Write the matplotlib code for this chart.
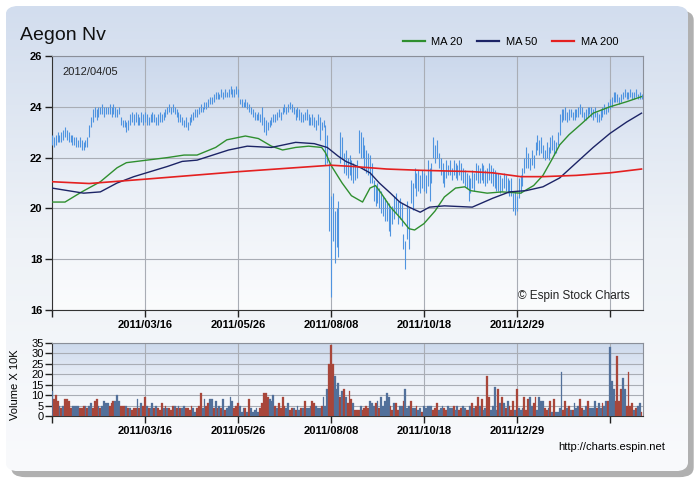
import numpy as np
import matplotlib
matplotlib.use('Agg')
import matplotlib.pyplot as plt
from matplotlib.patches import FancyBboxPatch
from matplotlib.colors import LinearSegmentedColormap

# daily high / low (bar index 0 = early Jan 2011, last = 2012/04/05)
hi = [22.9, 22.8, 22.9, 23.0, 22.9, 23.0, 23.1, 23.2, 23.1, 23.0,
      22.9, 22.9, 22.8, 22.8, 22.7, 22.8, 22.7, 22.6, 22.7, 22.8,
      23.3, 23.6, 23.9, 24.0, 23.9, 24.0, 24.0, 24.1, 24.0, 24.0,
      24.0, 24.1, 24.0, 24.1, 24.0, 23.9, 24.0, 23.6, 23.5, 23.5,
      23.4, 23.5, 23.7, 23.8, 23.7, 23.8, 23.7, 23.6, 23.8, 23.7,
      23.8, 23.7, 23.6, 23.7, 23.8, 23.7, 23.6, 23.7, 23.8, 23.7,
      23.8, 23.9, 24.0, 24.1, 24.0, 24.1, 24.0, 23.9, 23.8, 23.7,
      23.6, 23.5, 23.6, 23.4, 23.6, 23.7, 23.8, 23.9, 23.9, 24.0,
      24.1, 24.0, 24.2, 24.2, 24.3, 24.4, 24.4, 24.5, 24.6, 24.6,
      24.5, 24.7, 24.6, 24.7, 24.6, 24.7, 24.8, 24.7, 24.7, 24.8,
      24.7, 24.3, 24.3, 24.2, 24.3, 24.2, 24.1, 24.0, 23.9, 23.8,
      23.7, 23.8, 23.7, 24.0, 23.6, 23.5, 23.4, 23.5, 23.6, 23.7,
      23.7, 23.8, 23.9, 23.8, 24.0, 24.1, 24.0, 24.1, 24.2, 24.1,
      24.0, 23.9, 24.0, 23.9, 23.8, 23.7, 23.8, 23.9, 23.7, 23.6,
      23.7, 23.6, 23.5, 23.7, 23.6, 23.4, 23.5, 23.3, 22.9, 21.8,
      20.5, 20.6, 19.9, 20.0, 20.3, 23.0, 22.8, 22.2, 22.3, 22.0,
      22.1, 21.9, 21.8, 21.7, 21.9, 23.1, 23.0, 22.8, 22.5, 22.3,
      22.2, 22.1, 21.8, 21.1, 20.9, 21.0, 20.8, 20.7, 20.5, 20.4,
      20.3, 20.2, 20.0, 20.1, 20.5, 20.6, 20.3, 20.4, 20.2, 19.0,
      18.7, 20.3, 20.0, 21.1, 21.0, 21.6, 21.4, 21.5, 21.3, 21.5,
      21.4, 21.3, 21.9, 21.6, 21.8, 22.8, 22.5, 22.7, 22.2, 22.0,
      21.8, 21.5, 21.9, 21.7, 21.9, 21.6, 21.9, 21.8, 21.7, 21.9,
      21.8, 21.6, 21.5, 21.4, 21.3, 21.2, 21.5, 21.4, 21.8, 21.7,
      21.6, 21.8, 21.7, 21.5, 21.6, 21.8, 21.7, 21.6, 21.5, 21.4,
      21.4, 21.3, 21.2, 21.4, 21.3, 21.2, 21.1, 21.2, 20.6, 20.7,
      20.5, 21.2, 21.3, 21.6, 22.0, 22.4, 22.2, 22.0, 22.3, 22.1,
      22.6, 22.9, 22.7, 22.8, 22.5, 22.3, 22.6, 22.4, 22.8, 22.9,
      22.7, 22.6, 23.0, 23.7, 23.9, 23.9, 24.0, 23.8, 23.9, 23.9,
      23.8, 23.9, 23.9, 24.0, 24.1, 24.0, 23.8, 23.9, 24.0, 24.0,
      24.0, 23.9, 24.0, 23.8, 23.7, 23.9, 24.0, 24.1, 24.0, 24.2,
      24.3, 24.4, 24.6, 24.6, 24.5, 24.4, 24.5, 24.6, 24.7, 24.6,
      24.6, 24.7, 24.6, 24.6, 24.7, 24.5, 24.6, 24.5]
lo = [22.5, 22.4, 22.5, 22.6, 22.6, 22.6, 22.7, 22.8, 22.7, 22.6,
      22.6, 22.5, 22.5, 22.4, 22.4, 22.4, 22.3, 22.3, 22.4, 22.4,
      22.8, 23.2, 23.4, 23.6, 23.5, 23.6, 23.7, 23.7, 23.6, 23.7,
      23.7, 23.7, 23.6, 23.7, 23.6, 23.6, 23.7, 23.3, 23.2, 23.2,
      23.0, 23.1, 23.3, 23.4, 23.3, 23.4, 23.3, 23.3, 23.4, 23.3,
      23.4, 23.3, 23.3, 23.4, 23.4, 23.4, 23.3, 23.3, 23.4, 23.4,
      23.5, 23.6, 23.7, 23.8, 23.7, 23.8, 23.7, 23.6, 23.4, 23.4,
      23.3, 23.2, 23.2, 23.1, 23.3, 23.4, 23.5, 23.6, 23.6, 23.7,
      23.8, 23.8, 23.9, 23.9, 24.0, 24.1, 24.1, 24.2, 24.3, 24.3,
      24.3, 24.4, 24.3, 24.4, 24.4, 24.4, 24.5, 24.4, 24.4, 24.5,
      24.4, 24.1, 24.0, 24.0, 24.0, 23.9, 23.8, 23.7, 23.6, 23.5,
      23.5, 23.5, 23.4, 23.3, 23.0, 22.9, 23.1, 23.2, 23.3, 23.4,
      23.4, 23.5, 23.6, 23.5, 23.7, 23.8, 23.7, 23.8, 23.9, 23.8,
      23.7, 23.5, 23.6, 23.5, 23.4, 23.4, 23.5, 23.5, 23.3, 23.3,
      23.3, 23.2, 23.1, 23.3, 22.7, 23.1, 23.2, 21.7, 21.8, 19.1,
      16.5, 18.7, 17.85, 18.5, 18.1, 21.8, 22.0, 21.4, 21.3, 21.2,
      21.3, 21.1, 21.0, 21.1, 21.2, 22.2, 22.0, 22.0, 21.5, 21.4,
      21.3, 21.0, 21.0, 20.3, 20.1, 20.2, 20.0, 19.8, 19.7, 19.5,
      19.5, 19.1, 18.9, 19.4, 19.6, 19.8, 19.4, 19.6, 19.3, 18.4,
      17.6, 18.8, 18.4, 20.2, 19.95, 20.8, 20.5, 20.7, 20.6, 20.8,
      20.7, 20.6, 20.9, 20.3, 21.0, 22.0, 21.8, 22.0, 21.6, 21.3,
      21.0, 20.85, 21.2, 21.3, 21.3, 21.1, 21.3, 21.2, 21.1, 21.3,
      21.1, 21.0, 20.9, 20.8, 20.3, 20.6, 20.8, 20.7, 21.1, 21.0,
      21.0, 21.1, 21.0, 20.9, 21.0, 21.1, 21.0, 20.9, 20.8, 20.7,
      20.7, 20.6, 20.7, 20.8, 20.7, 20.6, 20.5, 20.5, 19.9, 19.75,
      19.9, 20.4, 20.6, 20.9, 21.4, 21.6, 21.6, 21.5, 21.7, 21.6,
      22.1, 22.3, 22.1, 22.2, 22.0, 21.9, 22.0, 21.9, 22.2, 22.3,
      22.1, 22.2, 22.5, 22.9, 23.4, 23.5, 23.5, 23.4, 23.5, 23.6,
      23.5, 23.5, 23.6, 23.6, 23.7, 23.6, 23.5, 23.5, 23.6, 23.7,
      23.6, 23.5, 23.6, 23.4, 23.4, 23.5, 23.6, 23.7, 23.7, 23.8,
      23.9, 24.0, 24.2, 24.2, 24.2, 24.1, 24.2, 24.3, 24.4, 24.3,
      24.3, 24.4, 24.3, 24.3, 24.4, 24.3, 24.3, 24.3]

# volume (x 10K) and up(r)/down(b) flag per day
vol = [12, 8, 10, 7, 5, 4, 5, 8, 8, 7,
       4, 5, 5, 5, 5, 4, 4, 5, 5, 4,
       5, 6, 4, 7, 8, 5, 4, 5, 7, 6,
       6, 5, 6, 7, 7, 10, 7, 5, 5, 5,
       5, 4, 4, 3, 4, 4, 8, 4, 6, 5,
       9, 5, 4, 4, 6, 4, 5, 4, 3, 6,
       4, 5, 4, 4, 3, 5, 5, 4, 5, 4,
       4, 5, 4, 4, 3, 5, 4, 2, 4, 5,
       11, 4, 8, 5, 6, 8, 8, 4, 7, 4,
       5, 4, 8, 3, 4, 5, 9, 7, 4, 5,
       6, 5, 2, 4, 4, 2, 8, 4, 2, 3,
       4, 2, 4, 6, 11, 11, 9, 8, 7, 10,
       5, 4, 6, 4, 9, 5, 4, 6, 3, 4,
       4, 3, 5, 3, 4, 4, 7, 4, 4, 5,
       7, 6, 5, 4, 4, 5, 9, 5, 13, 25,
       34, 25, 19, 13, 16, 9, 12, 13, 9, 6,
       12, 8, 6, 3, 3, 3, 5, 3, 4, 5,
       4, 7, 6, 5, 6, 7, 4, 9, 5, 7,
       11, 9, 5, 3, 6, 6, 3, 5, 5, 7,
       13, 4, 5, 7, 4, 4, 5, 3, 4, 2,
       5, 4, 5, 5, 5, 3, 4, 6, 3, 4,
       5, 4, 3, 5, 4, 4, 5, 3, 5, 3,
       4, 5, 4, 3, 3, 5, 6, 4, 5, 9,
       5, 8, 3, 4, 19, 9, 3, 5, 14, 3,
       13, 6, 9, 6, 4, 7, 5, 3, 7, 3,
       13, 4, 3, 4, 9, 3, 8, 9, 5, 6,
       9, 3, 9, 7, 7, 4, 3, 4, 7, 2,
       8, 2, 2, 4, 21, 3, 7, 4, 5, 3,
       3, 6, 4, 5, 8, 4, 3, 5, 7, 4,
       4, 4, 7, 4, 6, 4, 6, 5, 7, 7,
       33, 17, 13, 7, 29, 7, 13, 18, 13, 5,
       21, 5, 6, 3, 4, 5, 6, 2]
updown = ("brrrbrbrrr" "rbbbbrrrbr" "bbrrrbrbbb" "brrrbbbrrr" "brbrrrbrbr"
          "rbrbbrbrrr" "brbrrrbrbr" "bbrrrrbbrr" "rbbrrbbrbr" "brbrbbbbrr"
          "rbbbrbrbbb" "bbrrrrrbbb" "rbrrrrbbrr" "brbbrbrbbb" "rrbbbrbbbr"
          "rrbbbrbrbr" "rrbrrrbrrr" "rbbbrbrbbb" "bbrrbrrbbr" "bbbrbbrbbr"
          "bbbbbrrrbb" "brrbbbrbbr" "rbbrrbrbrr" "brbbrrbbbb" "rbrbrbrrrb"
          "rbbbrrrbbr" "rbbbbrrbrb" "rbbbbrrbrb" "rbbbrrbbrb" "bbbrbbrbbr"
          "bbbrrrrbbr" "rrrbrbbr")

# moving averages read at selected days
ma20_idx = [0, 7, 16, 26, 35, 40, 51, 62, 71, 78, 88, 94, 104, 111, 118, 124, 131,
            138, 145, 147, 150, 156, 161, 167, 171, 174, 177, 182, 187, 192, 195,
            200, 206, 211, 217, 222, 225, 234, 242, 252, 259, 264, 269, 273, 278,
            285, 291, 300, 309, 317]
ma20_val = [20.25, 20.25, 20.65, 21.05, 21.6, 21.8, 21.9, 22.0, 22.1, 22.1, 22.4,
            22.7, 22.85, 22.75, 22.45, 22.3, 22.4, 22.45, 22.4, 22.2, 21.7, 21.0,
            20.5, 20.25, 20.8, 20.9, 20.6, 20.05, 19.65, 19.2, 19.15, 19.4, 19.9,
            20.45, 20.8, 20.85, 20.7, 20.6, 20.65, 20.6, 20.9, 21.3, 21.95, 22.5,
            22.9, 23.35, 23.75, 24.0, 24.2, 24.4]
ma50_idx = [0, 17, 26, 35, 44, 53, 62, 70, 78, 95, 105, 118, 131, 141, 148, 154,
            158, 166, 171, 176, 182, 187, 192, 198, 203, 211, 226, 237, 246, 255,
            264, 273, 282, 291, 300, 309, 317]
ma50_val = [20.8, 20.6, 20.65, 21.0, 21.25, 21.45, 21.65, 21.85, 21.9, 22.3, 22.45,
            22.4, 22.6, 22.55, 22.4, 22.05, 21.85, 21.6, 21.4, 21.0, 20.6, 20.25,
            20.05, 19.85, 20.05, 20.1, 20.05, 20.4, 20.65, 20.7, 20.85, 21.2, 21.8,
            22.4, 22.95, 23.4, 23.75]
ma200_idx = [0, 20, 50, 101, 150, 162, 180, 198, 225, 237, 252, 264, 282, 300, 317]
ma200_val = [21.05, 20.98, 21.15, 21.45, 21.7, 21.65, 21.55, 21.5, 21.45, 21.4,
             21.25, 21.25, 21.3, 21.4, 21.55]

date_ticks = [0, 50, 100, 150, 200, 250, 300]
date_labels = ['', '2011/03/16', '2011/05/26', '2011/08/08', '2011/10/18', '2011/12/29', '']

plt.rcParams['font.family'] = ['Liberation Sans', 'DejaVu Sans']

fig = plt.figure(figsize=(7, 4.8), dpi=100)
fig.patch.set_facecolor('white')

# panel: shadow behind, gradient fill in front
shadow = FancyBboxPatch((0.016, 0.006), 0.975, 0.972, boxstyle='round,pad=0,rounding_size=0.02',
                        transform=fig.transFigure, fc='#9c9c9c', ec='none', alpha=0.8, zorder=-2)
fig.patches.append(shadow)
bg = fig.add_axes([0.008, 0.018, 0.975, 0.97], zorder=0)
bg.axis('off')
cmap_bg = LinearSegmentedColormap.from_list('bg', ['#f9fafc', '#eef2f7', '#d2ddee'])
im = bg.imshow(np.linspace(0, 1, 256).reshape(-1, 1), cmap=cmap_bg, aspect='auto',
               extent=[0, 1, 0, 1], origin='lower')
clip = FancyBboxPatch((0.008, 0.018), 0.975, 0.97, boxstyle='round,pad=0,rounding_size=0.02',
                      transform=fig.transFigure, fc='none', ec='none')
im.set_clip_path(clip)

cmap_ax = LinearSegmentedColormap.from_list('ax', ['#fbfcfd', '#eaeff7', '#cbd8ec'])
main_pos = [52 / 700, 1 - 310 / 480, 591 / 700, 254 / 480]
vol_pos = [52 / 700, 1 - 416 / 480, 591 / 700, 73 / 480]
for pos in (main_pos, vol_pos):
    g = fig.add_axes(pos, zorder=1)
    g.axis('off')
    g.imshow(np.linspace(0, 1, 256).reshape(-1, 1), cmap=cmap_ax, aspect='auto',
             extent=[0, 1, 0, 1], origin='lower')

ax = fig.add_axes(main_pos, zorder=2)
ax2 = fig.add_axes(vol_pos, zorder=2)
for a in (ax, ax2):
    a.set_facecolor('none')
    a.grid(True, color='#a9adb5', lw=0.8)
    a.set_axisbelow(True)
    for s in ('top', 'right'):
        a.spines[s].set_color('#8a8f99')
    for s in ('left', 'bottom'):
        a.spines[s].set_color('#333333')
    a.set_xlim(0, 317.8)
    a.set_xticks(date_ticks)
    a.set_xticklabels(date_labels, fontsize=8, fontweight='bold')
    a.tick_params(length=5, width=1, color='#222222', pad=2)

x = np.arange(len(hi))
ax.vlines(x, lo, hi, color='#4f94e0', lw=0.8, zorder=3)
ax.plot(ma20_idx, ma20_val, color='#2f8f2f', lw=1.0, zorder=4, label='MA 20')
ax.plot(ma50_idx, ma50_val, color='#1c2466', lw=1.0, zorder=4, label='MA 50')
ax.plot(ma200_idx, ma200_val, color='#e42020', lw=1.2, zorder=4, label='MA 200')
ax.set_ylim(16, 26)
ax.set_yticks([16, 18, 20, 22, 24, 26])
ax.set_yticklabels(['16', '18', '20', '22', '24', '26'], fontsize=8, fontweight='bold')
ax.text(0.017, 0.937, '2012/04/05', transform=ax.transAxes, fontsize=8, va='center', color='#222222')
ax.text(0.978, 0.055, '\u00a9 Espin Stock Charts', transform=ax.transAxes, fontsize=8.5,
        ha='right', va='center', color='#222222')
leg = ax.legend(loc='center right', bbox_to_anchor=(0.975, 1.055), ncol=3, frameon=False,
                fontsize=8, handlelength=2.0, handletextpad=0.6, columnspacing=1.3)
for h in leg.get_lines():
    h.set_linewidth(1.6)

colors = ['#a8463a' if c == 'r' else '#52709a' for c in updown]
ax2.bar(x, vol, width=1.0, color=colors, edgecolor=colors, lw=0.2, zorder=3)
ax2.set_ylim(0, 35)
ax2.set_yticks([0, 5, 10, 15, 20, 25, 30, 35])
ax2.set_yticklabels(['0', '5', '10', '15', '20', '25', '30', '35'], fontsize=8)
ax2.tick_params(axis='y', pad=1)

fig.text(20 / 700, 1 - 35 / 480, 'Aegon Nv', fontsize=14, va='center', color='#111111')
fig.text(15 / 700, 1 - 385 / 480, 'Volume X 10K', rotation=90, fontsize=8, ha='center', va='center')
fig.text(665 / 700, 1 - 447 / 480, 'http://charts.espin.net', fontsize=8, ha='right', va='center')

plt.savefig('out.png', dpi=100)
